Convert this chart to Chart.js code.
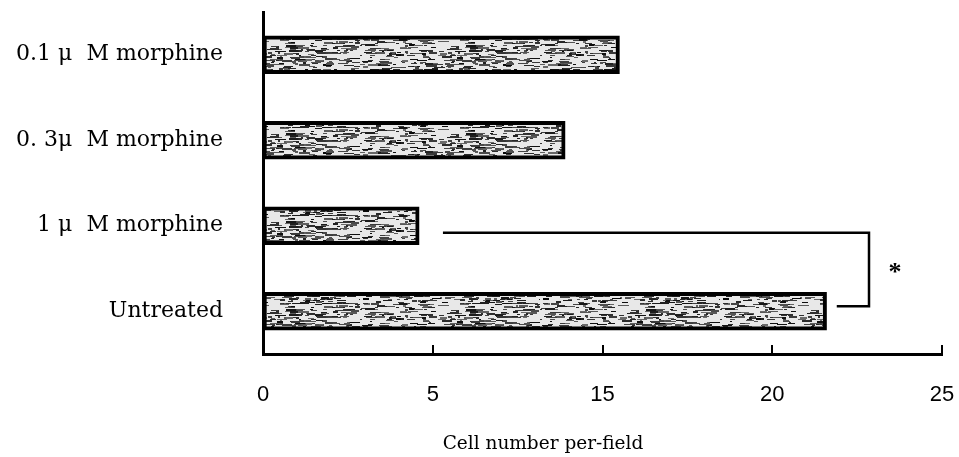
<!DOCTYPE html>
<html>
<head>
<meta charset="utf-8">
<script src="https://cdn.jsdelivr.net/npm/chart.js@4/dist/chart.umd.min.js"></script>
<style>
  html, body { margin: 0; padding: 0; background: #ffffff; }
  #wrap { width: 959px; height: 457px; }
</style>
</head>
<body>
<div id="wrap"><canvas id="chart" width="959" height="457"></canvas></div>
<script>
// Treatment groups, top to bottom
const categories = ["0.1 μ  M morphine", "0. 3μ  M morphine", "1 μ  M morphine", "Untreated"];
// Mean cell number per field for each group
const cellCounts = [15.5, 12.8, 4.6, 21.6];
// Labels printed under the evenly spaced ticks of the x axis
const tickLabels = [0, 5, 15, 20, 25];

// The ticks are evenly spaced although their labels are not, so values are
// placed piecewise between neighbouring ticks (tick index = axis unit).
function toAxis(v) {
  for (let i = 0; i < tickLabels.length - 1; i++) {
    const a = tickLabels[i], b = tickLabels[i + 1];
    if (v <= b || i === tickLabels.length - 2) return i + (v - a) / (b - a);
  }
  return 0;
}

// Speckled grey fill for the bars
function makeTexture() {
  const c = document.createElement('canvas');
  c.width = 180; c.height = 44;
  const g = c.getContext('2d');
  g.fillStyle = '#e8e8e8';
  g.fillRect(0, 0, c.width, c.height);
  let s = 11;
  const next = () => { s = (s * 16807) % 2147483647; return s / 2147483647; };
  for (let k = 0; k < 430; k++) {
    const x = next() * c.width, y = next() * c.height;
    const w = 2 + next() * 9, h = next() < 0.6 ? 1 : 2;
    const shade = 10 + Math.floor(next() * 100);
    g.fillStyle = 'rgb(' + shade + ',' + shade + ',' + shade + ')';
    g.fillRect(Math.round(x), Math.round(y), Math.round(w), h);
  }
  return g.createPattern(c, 'repeat');
}

const ctx = document.getElementById('chart').getContext('2d');

// Inward tick marks on the x axis, the significance bracket and the axis title
const decorations = {
  id: 'decorations',
  afterDraw(chart) {
    const { ctx, chartArea, scales } = chart;
    const xs = scales.x, ys = scales.y;
    ctx.save();
    ctx.strokeStyle = '#000';
    ctx.lineWidth = 2;
    for (let i = 1; i < tickLabels.length; i++) {
      const px = Math.round(xs.getPixelForTick(i));
      ctx.beginPath();
      ctx.moveTo(px, chartArea.bottom);
      ctx.lineTo(px, chartArea.bottom - 9);
      ctx.stroke();
    }

    // bracket between "1 μM morphine" and "Untreated"
    const yTop = ys.getPixelForValue(2) + 7;
    const yBot = ys.getPixelForValue(3) - 5;
    const xStart = xs.getPixelForValue(toAxis(5.6));
    const xEdge = xs.getPixelForValue(toAxis(22.85));
    const xLow = xs.getPixelForValue(toAxis(21.9));
    ctx.lineWidth = 2.5;
    ctx.beginPath();
    ctx.moveTo(xStart, yTop);
    ctx.lineTo(xEdge, yTop);
    ctx.lineTo(xEdge, yBot);
    ctx.lineTo(xLow, yBot);
    ctx.stroke();

    ctx.fillStyle = '#000';
    ctx.font = 'bold 26px "Liberation Serif"';
    ctx.textAlign = 'center';
    ctx.textBaseline = 'middle';
    ctx.fillText('*', xEdge + 26, (yTop + yBot) / 2 + 4);

    ctx.font = '18.5px "DejaVu Serif"';
    ctx.textBaseline = 'alphabetic';
    ctx.fillText('Cell number per-field', chartArea.left + 280, 449);
    ctx.restore();
  }
};

new Chart(ctx, {
  type: 'bar',
  data: {
    labels: categories,
    datasets: [{
      data: cellCounts.map(toAxis),
      backgroundColor: makeTexture(),
      borderColor: '#000000',
      borderWidth: 4,
      borderSkipped: false,
      barThickness: 38
    }]
  },
  options: {
    indexAxis: 'y',
    responsive: false,
    animation: false,
    devicePixelRatio: 1,
    layout: { padding: { left: 0, top: 12, right: 17, bottom: 0 } },
    plugins: {
      legend: { display: false },
      tooltip: { enabled: false }
    },
    scales: {
      x: {
        type: 'linear',
        min: 0,
        max: tickLabels.length - 1,
        grid: { display: false, drawTicks: false },
        border: { display: true, color: '#000', width: 3 },
        ticks: {
          stepSize: 1,
          padding: 28,
          color: '#000',
          font: { family: '"Liberation Sans"', size: 22 },
          callback: (value) => String(tickLabels[value])
        },
        afterFit: (s) => {
          s.height = 103;
          s.paddingLeft = 0; s.paddingRight = 0; s.paddingTop = 0; s.paddingBottom = 0;
        }
      },
      y: {
        grid: { display: false, drawTicks: false },
        border: { display: true, color: '#000', width: 3 },
        ticks: {
          padding: 40,
          color: '#000',
          font: { family: '"DejaVu Serif"', size: 22 }
        },
        afterFit: (s) => {
          s.width = 263;
          s.paddingLeft = 0; s.paddingRight = 0; s.paddingTop = 0; s.paddingBottom = 0;
        }
      }
    }
  },
  plugins: [decorations]
});
</script>
</body>
</html>
